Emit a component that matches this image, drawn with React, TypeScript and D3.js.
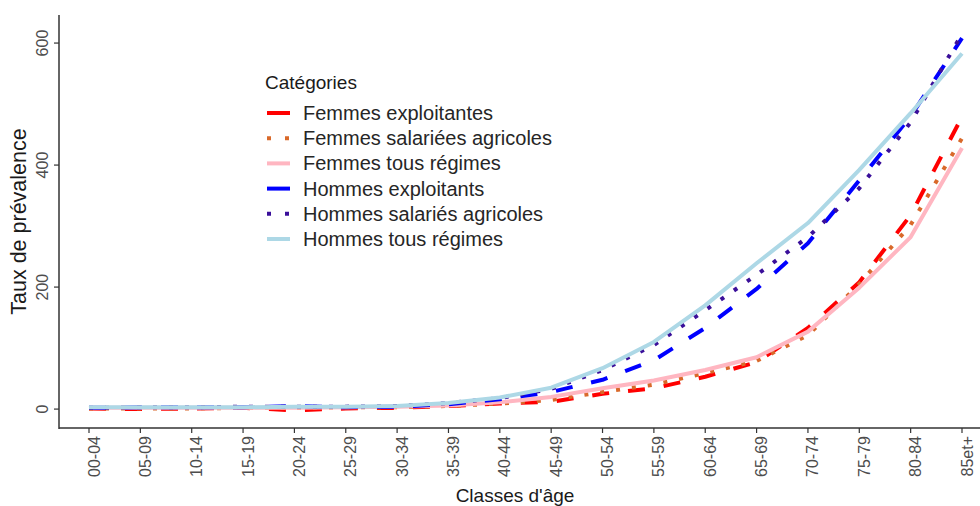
import { useEffect, useRef } from 'react';
import * as d3 from 'd3';

// age classes on the x axis
const ageClasses = ['00-04', '05-09', '10-14', '15-19', '20-24', '25-29', '30-34', '35-39', '40-44',
  '45-49', '50-54', '55-59', '60-64', '65-69', '70-74', '75-79', '80-84', '85et+'];

// prevalence rates
const femmesExploitantes = [1, 0, 1, 2, -2, 1, 2, 5, 9, 12, 25, 34, 53, 77, 133, 208, 318, 479];
const femmesSalariees = [1, 1, 1, 2, 2, 3, 3, 5, 9, 15, 28, 40, 59, 79, 121, 205, 302, 444];
const femmesTous = [2, 2, 2, 2, 2, 3, 4, 6, 11, 20, 34, 47, 64, 85, 127, 199, 282, 428];
const hommesExploitants = [2, 3, 3, 3, 5, 3, 4, 8, 16, 28, 48, 80, 133, 197, 272, 375, 480, 608];
const hommesSalaries = [2, 3, 3, 4, 4, 4, 5, 10, 18, 33, 64, 105, 162, 220, 282, 362, 470, 615];
const hommesTous = [3, 3, 3, 3, 4, 4, 5, 10, 19, 35, 67, 110, 170, 239, 305, 392, 485, 583];

const yTicks = [0, 200, 400, 600];

const seriesNames = ['Femmes exploitantes', 'Femmes salariées agricoles', 'Femmes tous régimes',
  'Hommes exploitants', 'Hommes salariés agricoles', 'Hommes tous régimes'];
const seriesValues = [femmesExploitantes, femmesSalariees, femmesTous, hommesExploitants, hommesSalaries, hommesTous];
const seriesColors = ['#ff0000', '#d9692a', '#ffb6c1', '#0000ff', '#3a0f9a', '#add8e6'];
const seriesDash = ['17,19', '4,12', null, '17,19', '4,12', null];

export default function App() {
  const svgRef = useRef<SVGSVGElement>(null);

  useEffect(() => {
    const svg = d3.select(svgRef.current);
    svg.selectAll('*').remove();

    const width = 980, height = 506;
    const plot = { left: 59, right: 980, top: 15, bottom: 428 };
    const font = '"Liberation Sans", Arial, sans-serif';

    const x = d3.scalePoint<string>().domain(ageClasses).range([89, 962]);
    const y = d3.scaleLinear().domain([-31, 646]).range([plot.bottom, plot.top]);

    svg.attr('width', width).attr('height', height).style('font-family', font);
    svg.append('rect').attr('width', width).attr('height', height).attr('fill', '#fff');

    // lines
    const line = d3.line<number>().x((_, i) => x(ageClasses[i])!).y(d => y(d));
    const lines = svg.append('g');
    seriesValues.forEach((vals, k) => {
      const p = lines.append('path').datum(vals).attr('d', line)
        .attr('fill', 'none').attr('stroke', seriesColors[k]).attr('stroke-width', 4)
        .attr('stroke-linejoin', 'round');
      if (seriesDash[k]) p.attr('stroke-dasharray', seriesDash[k]!);
    });

    // axes
    const axisColor = '#333';
    svg.append('line').attr('x1', plot.left).attr('x2', plot.left).attr('y1', plot.top).attr('y2', plot.bottom + 1)
      .attr('stroke', axisColor).attr('stroke-width', 1.5);
    svg.append('line').attr('x1', plot.left).attr('x2', plot.right).attr('y1', plot.bottom).attr('y2', plot.bottom)
      .attr('stroke', axisColor).attr('stroke-width', 1.5);

    const yAxis = svg.append('g');
    yTicks.forEach(t => {
      yAxis.append('line').attr('x1', plot.left - 5).attr('x2', plot.left).attr('y1', y(t)).attr('y2', y(t))
        .attr('stroke', axisColor).attr('stroke-width', 1.2);
      yAxis.append('text').attr('transform', `translate(42,${y(t)}) rotate(-90)`)
        .attr('text-anchor', 'middle').attr('dominant-baseline', 'central')
        .attr('font-size', 16).attr('fill', '#4d4d4d').text(t);
    });

    const xAxis = svg.append('g');
    ageClasses.forEach(c => {
      const cx = x(c)!;
      xAxis.append('line').attr('x1', cx).attr('x2', cx).attr('y1', plot.bottom).attr('y2', plot.bottom + 5)
        .attr('stroke', axisColor).attr('stroke-width', 1.2);
      xAxis.append('text').attr('transform', `translate(${cx + 5},${plot.bottom + 8}) rotate(-90)`)
        .attr('text-anchor', 'end').attr('dominant-baseline', 'central')
        .attr('font-size', 16).attr('fill', '#4d4d4d').text(c);
    });

    // axis titles
    svg.append('text').attr('x', 515).attr('y', 502).attr('text-anchor', 'middle')
      .attr('font-size', 19).attr('fill', '#1a1a1a').text("Classes d'âge");
    svg.append('text').attr('transform', `translate(19,${(plot.top + plot.bottom) / 2}) rotate(-90)`)
      .attr('text-anchor', 'middle').attr('dominant-baseline', 'central')
      .attr('font-size', 21.5).attr('fill', '#1a1a1a').text('Taux de prévalence');

    // legend
    const lg = svg.append('g').attr('transform', 'translate(265,82)');
    lg.append('text').attr('x', 0).attr('y', 0).attr('dominant-baseline', 'central')
      .attr('font-size', 19).attr('fill', '#1a1a1a').text('Catégories');
    seriesNames.forEach((name, k) => {
      const ly = 31 + k * 25.2;
      const key = lg.append('line').attr('x1', 2).attr('x2', 25).attr('y1', ly).attr('y2', ly)
        .attr('stroke', seriesColors[k]).attr('stroke-width', 4);
      if (seriesDash[k]) key.attr('stroke-dasharray', seriesDash[k] === '4,12' ? '4,14' : '23,10');
      lg.append('text').attr('x', 38).attr('y', ly).attr('dominant-baseline', 'central')
        .attr('font-size', 20).attr('fill', '#262626').text(name);
    });
  }, []);

  return <svg ref={svgRef} style={{ display: 'block', position: 'absolute', left: 0, top: 0 }} />;
}
